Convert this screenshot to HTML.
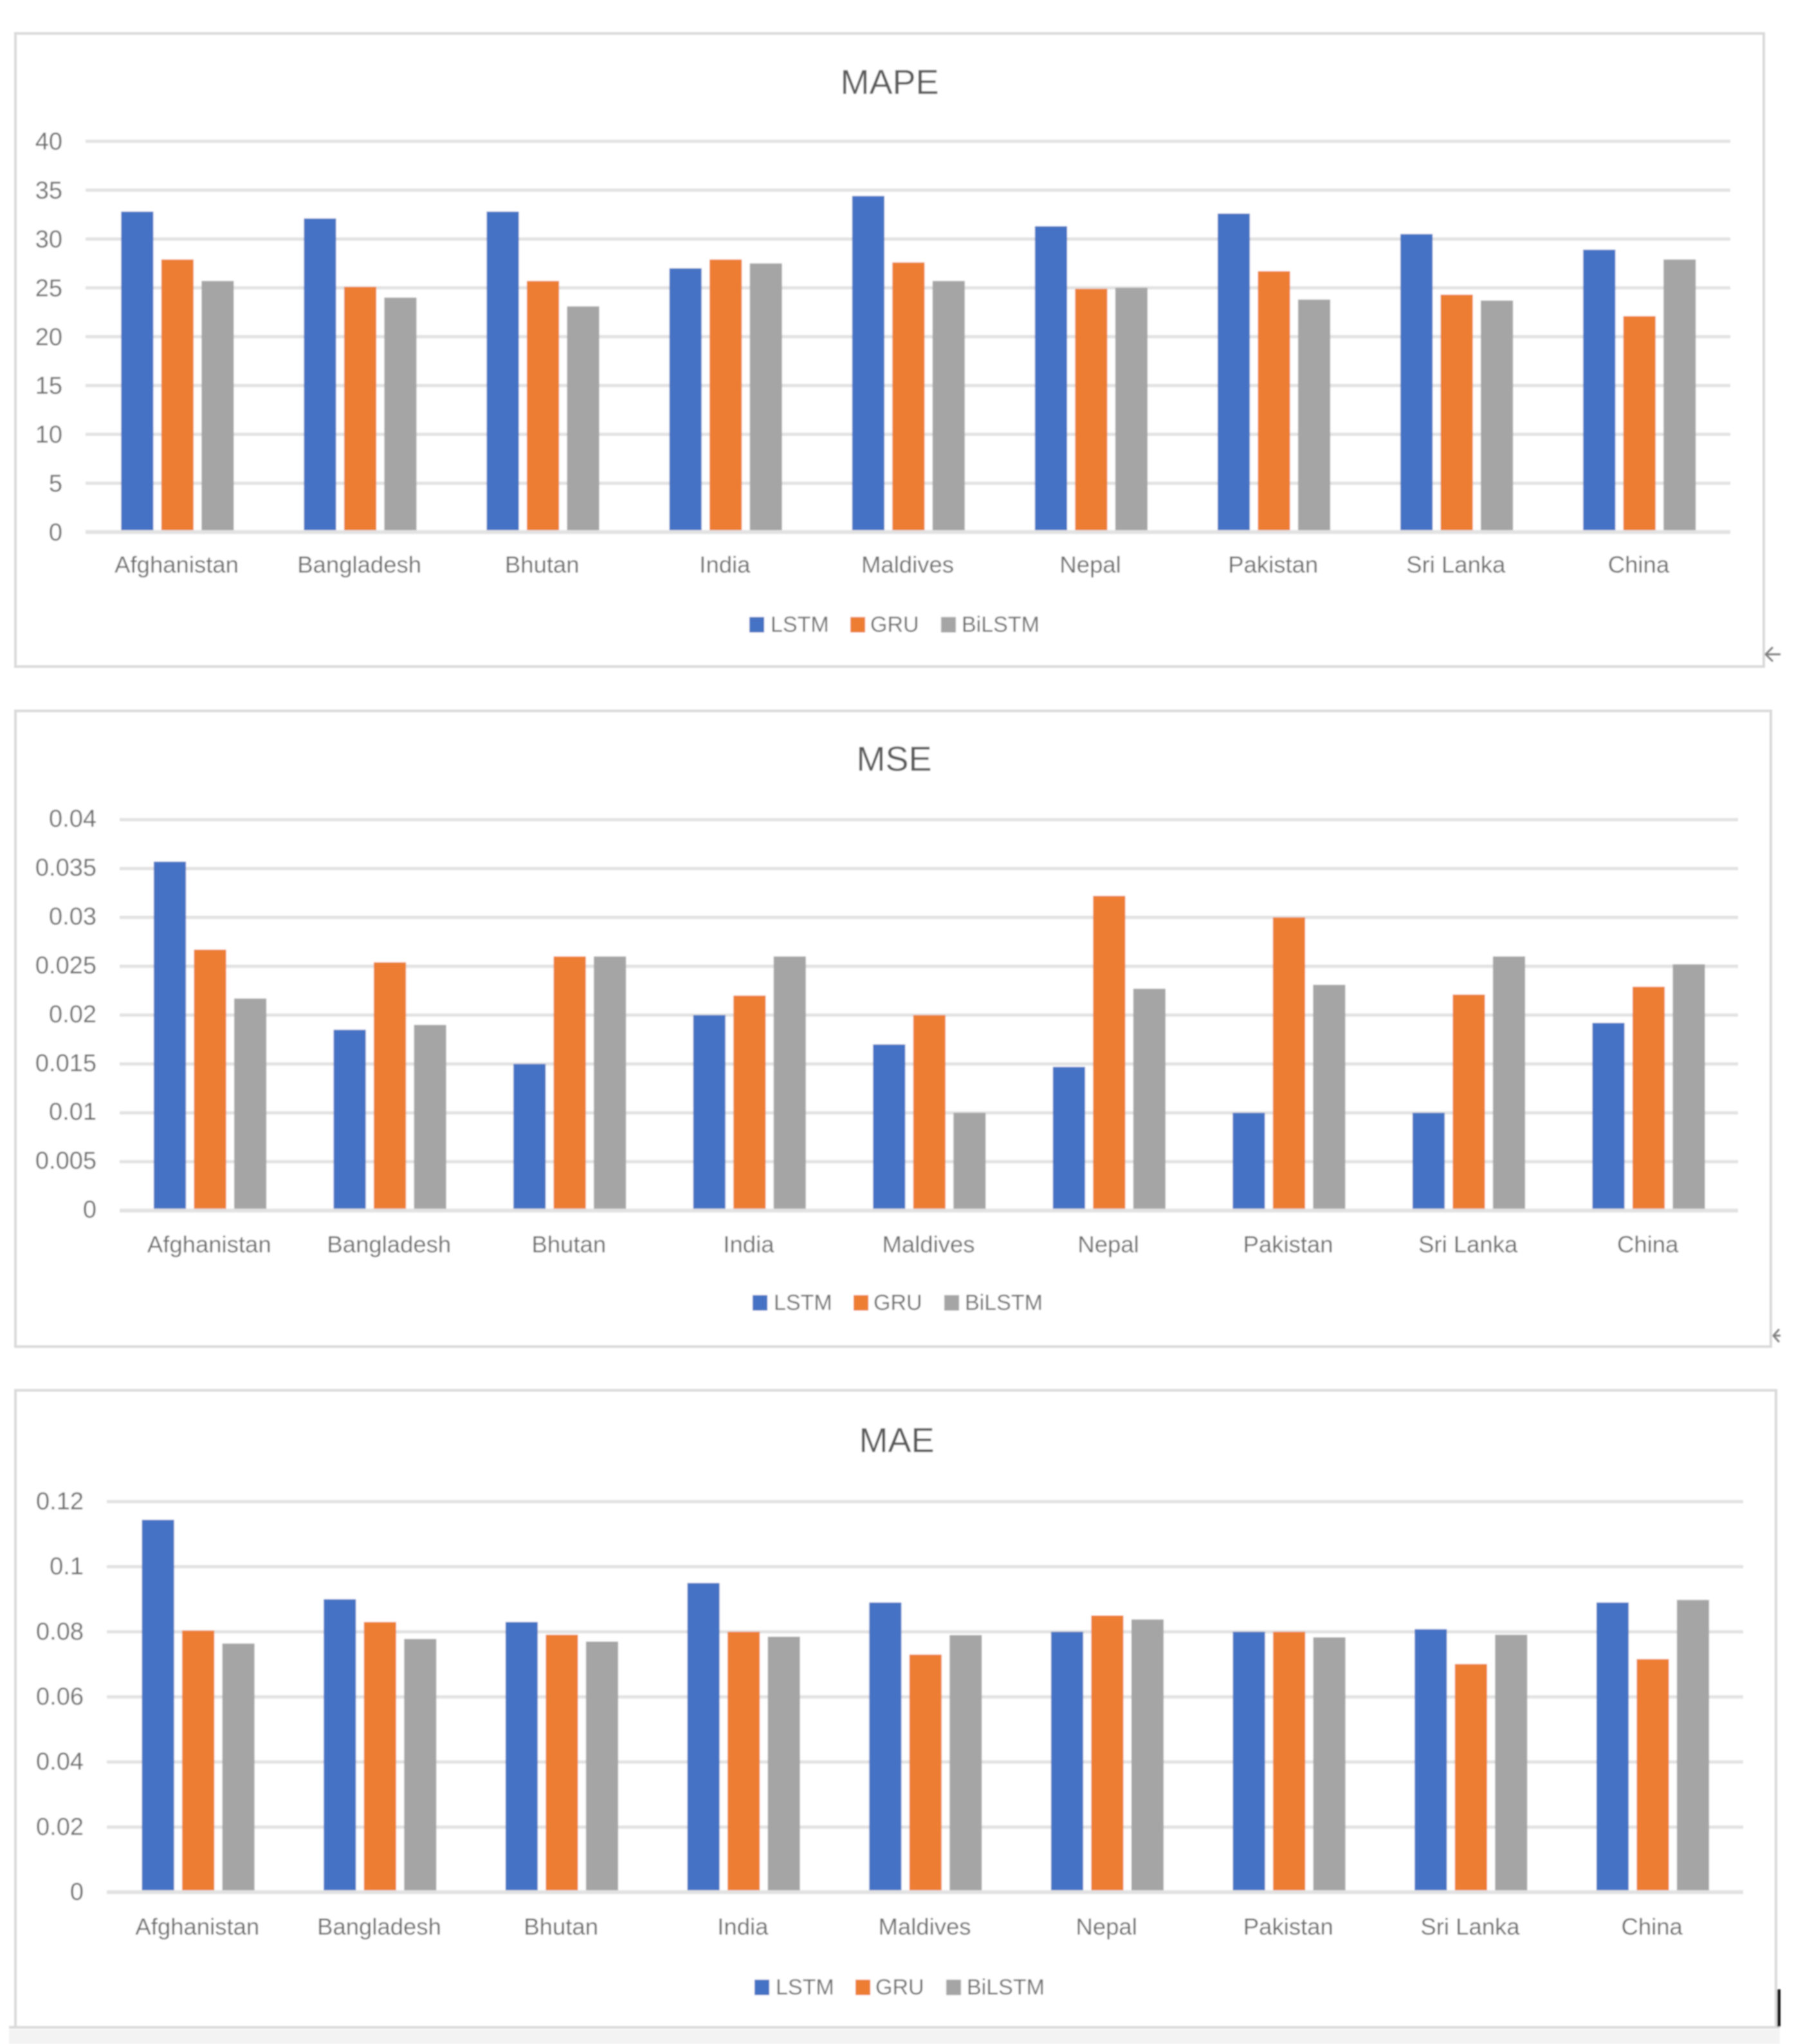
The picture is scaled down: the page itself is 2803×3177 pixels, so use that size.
<!DOCTYPE html>
<html lang="en">
<head>
<meta charset="utf-8">
<title>MAPE, MSE and MAE by country</title>
<style>
  html, body { margin: 0; padding: 0; background: #ffffff; }
  body { width: 2803px; height: 3177px; overflow: hidden; }
  svg { display: block; font-family: "Liberation Sans", Arial, sans-serif; }
</style>
</head>
<body>
<svg id="figure" xmlns="http://www.w3.org/2000/svg" width="2803" height="3177" viewBox="0 0 2803 3177">
  <defs>
    <filter id="soft" filterUnits="userSpaceOnUse" x="0" y="0" width="2803" height="3177">
      <feGaussianBlur stdDeviation="1.1"/>
    </filter>
  </defs>
  <g id="root" filter="url(#soft)"></g>
</svg>
<script>
const categories = ["Afghanistan", "Bangladesh", "Bhutan", "India", "Maldives", "Nepal", "Pakistan", "Sri Lanka", "China"];
const seriesNames = ["LSTM", "GRU", "BiLSTM"];

const mapeLstm = [32.8, 32.1, 32.8, 27.0, 34.4, 31.3, 32.6, 30.5, 28.9];
const mapeGru = [27.9, 25.1, 25.7, 27.9, 27.6, 24.9, 26.7, 24.3, 22.1];
const mapeBilstm = [25.7, 24.0, 23.1, 27.5, 25.7, 25.0, 23.8, 23.7, 27.9];
const mapeTicks = [0, 5, 10, 15, 20, 25, 30, 35, 40];
const mapeTickLabels = ["0", "5", "10", "15", "20", "25", "30", "35", "40"];

const mseLstm = [0.0357, 0.0185, 0.015, 0.02, 0.017, 0.0147, 0.01, 0.01, 0.0192];
const mseGru = [0.0267, 0.0254, 0.026, 0.022, 0.02, 0.0322, 0.03, 0.0221, 0.0229];
const mseBilstm = [0.0217, 0.019, 0.026, 0.026, 0.01, 0.0227, 0.0231, 0.026, 0.0252];
const mseTicks = [0, 0.005, 0.01, 0.015, 0.02, 0.025, 0.03, 0.035, 0.04];
const mseTickLabels = ["0", "0.005", "0.01", "0.015", "0.02", "0.025", "0.03", "0.035", "0.04"];

const maeLstm = [0.1144, 0.09, 0.083, 0.095, 0.089, 0.08, 0.08, 0.0808, 0.089];
const maeGru = [0.0804, 0.083, 0.0791, 0.08, 0.073, 0.085, 0.08, 0.0701, 0.0716];
const maeBilstm = [0.0764, 0.0778, 0.077, 0.0785, 0.079, 0.0838, 0.0783, 0.0791, 0.0898];
const maeTicks = [0, 0.02, 0.04, 0.06, 0.08, 0.1, 0.12];
const maeTickLabels = ["0", "0.02", "0.04", "0.06", "0.08", "0.1", "0.12"];

const NS = "http://www.w3.org/2000/svg";
const root = document.getElementById("root");
const seriesColors = ["#4472c4", "#ed7d31", "#a5a5a5"];

function make(tag, attrs, parent) {
  const el = document.createElementNS(NS, tag);
  for (const k in attrs) el.setAttribute(k, attrs[k]);
  parent.appendChild(el);
  return el;
}

function drawChart(key, title, seriesValues, ticks, tickLabels, box) {
  const g = make("g", {}, root);
  
  

  const frame = make("rect", { x: box.left, y: box.top, width: box.right - box.left, height: box.bottom - box.top, fill: "#ffffff", stroke: "#d9d9d9", "stroke-width": 4 }, g);
  
  

  const titleEl = make("text", { x: box.titleX, y: box.titleY, "text-anchor": "middle", "font-size": 54, fill: "#595959" }, g);
  titleEl.textContent = title;
  
  

  const maxTick = Math.max.apply(null, ticks);
  const yScale = function (v) { return box.axisBottom - (v / maxTick) * (box.axisBottom - box.axisTop); };
  const step = (box.plotRight - box.plotLeft) / categories.length;
  const xCenter = function (i) { return box.plotLeft + step * (i + 0.5); };
  const barWidth = 50;
  const barPitch = 62.5;

  ticks.forEach(function (t, i) {
    if (t !== 0) {
      const line = make("line", { x1: box.plotLeft, x2: box.plotRight, y1: yScale(t), y2: yScale(t), stroke: "#e2e2e2", "stroke-width": 5 }, g);
      
      
    }
    const label = make("text", { x: box.plotLeft - 36, y: yScale(t) + box.tickDy, "text-anchor": "end", "font-size": 38, fill: "#6a6a6a" }, g);
    label.textContent = tickLabels[i];
    
    
  });

  seriesValues.forEach(function (values, s) {
    values.forEach(function (v, i) {
      const bar = make("rect", { x: xCenter(i) + (s - 1) * barPitch - barWidth / 2 + 0.8, y: yScale(v), width: barWidth, height: box.axisBottom - yScale(v), fill: seriesColors[s] }, g);
      
      
    });
  });

  const axis = make("line", { x1: box.plotLeft, x2: box.plotRight, y1: box.axisBottom, y2: box.axisBottom, stroke: "#e2e2e2", "stroke-width": 6 }, g);
  
  

  categories.forEach(function (c, i) {
    const label = make("text", { x: xCenter(i) - 0.5, y: box.axisBottom + box.labelDy, "text-anchor": "middle", "font-size": 36.5, fill: "#6a6a6a" }, g);
    label.textContent = c;
    
    
  });

  const swatchOffsets = [0, 157, 298];
  const textOffsets = [33, 188, 330];
  seriesNames.forEach(function (name, s) {
    const swatch = make("rect", { x: box.legendX + swatchOffsets[s], y: box.legendY - 12, width: 23, height: 24, fill: seriesColors[s] }, g);
    
    
    const text = make("text", { x: box.legendX + textOffsets[s], y: box.legendY + 11, "font-size": 34, fill: "#6a6a6a" }, g);
    text.textContent = name;
    
    
  });
}

drawChart("mape", "MAPE", [mapeLstm, mapeGru, mapeBilstm], mapeTicks, mapeTickLabels,
  { left: 24, top: 52, right: 2742, bottom: 1036, titleX: 1383, titleY: 146, plotLeft: 133, plotRight: 2690, axisTop: 219.6, axisBottom: 827, legendX: 1165, legendY: 971, tickDy: 13, labelDy: 63 });
drawChart("mse", "MSE", [mseLstm, mseGru, mseBilstm], mseTicks, mseTickLabels,
  { left: 24, top: 1105, right: 2753, bottom: 2093, titleX: 1390, titleY: 1198, plotLeft: 186, plotRight: 2702, axisTop: 1274, axisBottom: 1881.6, legendX: 1170, legendY: 2025, tickDy: 11, labelDy: 65 });
drawChart("mae", "MAE", [maeLstm, maeGru, maeBilstm], maeTicks, maeTickLabels,
  { left: 24, top: 2161, right: 2761, bottom: 3151, titleX: 1394, titleY: 2257, plotLeft: 166, plotRight: 2710, axisTop: 2334, axisBottom: 2941, legendX: 1173, legendY: 3089, tickDy: 12, labelDy: 66 });

const bottomBand = make("rect", { x: 14, y: 3154, width: 2753, height: 23, fill: "#f3f3f3" }, root);



const bottomLine = make("line", { x1: 14, x2: 2767, y1: 3151, y2: 3151, stroke: "#d9d9d9", "stroke-width": 4 }, root);



const returnArrowOne = make("path", { d: "M2768 1017 H2746 M2756 1006 L2745 1017 L2756 1028", fill: "none", stroke: "#808080", "stroke-width": 3 }, root);



const returnArrowTwo = make("path", { d: "M2768 2076 H2758 M2766 2066 L2757 2076 L2766 2086", fill: "none", stroke: "#808080", "stroke-width": 3 }, root);



const cursorMark = make("rect", { x: 2763, y: 3092, width: 5, height: 58, fill: "#111111" }, root);


</script>
</body>
</html>
